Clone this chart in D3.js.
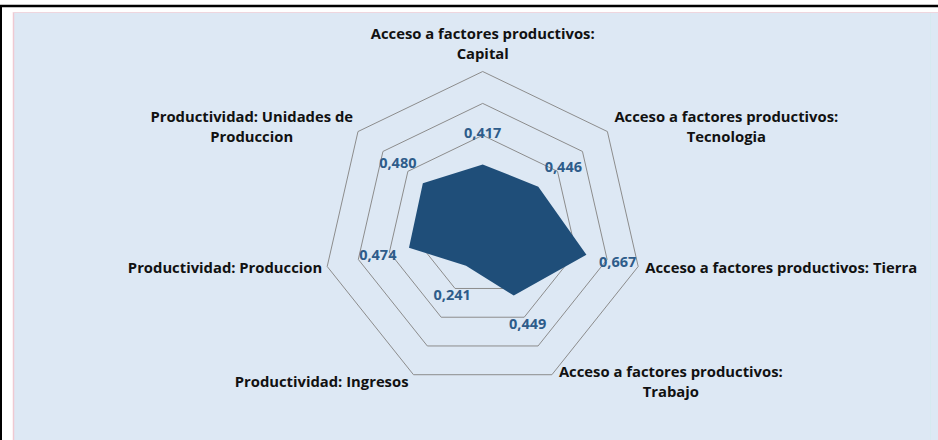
<!DOCTYPE html>
<html>
<head>
<meta charset="utf-8">
<script src="https://cdn.jsdelivr.net/npm/d3@7"></script>
<style>
  body { margin: 0; background: #fff; }
  text { font-family: "Open Sans", Lato, sans-serif; }
</style>
</head>
<body>
<div id="chart"></div>
<script>
'use strict';

// categories, clockwise from the top (each entry = lines of the label)
const categories = [
  ["Acceso a factores productivos:", "Capital"],
  ["Acceso a factores productivos:", "Tecnologia"],
  ["Acceso a factores productivos: Tierra"],
  ["Acceso a factores productivos:", "Trabajo"],
  ["Productividad: Ingresos"],
  ["Productividad: Produccion"],
  ["Productividad: Unidades de", "Produccion"]
];
const values = [0.417, 0.446, 0.667, 0.449, 0.241, 0.474, 0.480];
const ringTicks = [0.2, 0.4, 0.6, 0.8, 1.0];

(function() {
  const width = 938, height = 440;
  const cx = 482.7, cy = 231, R = 159.5;
  const n = categories.length;

  const svg = d3.select('#chart').append('svg')
    .attr('width', width)
    .attr('height', height);

  // background + frame
  svg.append('rect').attr('x', 14).attr('y', 13)
    .attr('width', width - 14).attr('height', height - 13)
    .attr('fill', '#dde8f4');
  svg.append('line').attr('x1', 13.5).attr('x2', 13.5).attr('y1', 12).attr('y2', height)
    .attr('stroke', '#efc9d2').attr('stroke-width', 1.5);
  svg.append('line').attr('x1', 13).attr('x2', width).attr('y1', 12.5).attr('y2', 12.5)
    .attr('stroke', '#efd6de').attr('stroke-width', 1);
  svg.append('line').attr('x1', 930.5).attr('x2', 930.5).attr('y1', 13).attr('y2', height)
    .attr('stroke', '#d6e9f0').attr('stroke-width', 1);
  svg.append('line').attr('x1', 0).attr('x2', width).attr('y1', 6).attr('y2', 6)
    .attr('stroke', '#000').attr('stroke-width', 2.5);
  svg.append('line').attr('x1', 1).attr('x2', 1).attr('y1', 5).attr('y2', height)
    .attr('stroke', '#000').attr('stroke-width', 2);

  const r = d3.scaleLinear().domain([0, 1]).range([0, R]);
  const angle = d3.scaleLinear().domain([0, n]).range([0, 2 * Math.PI]);

  const g = svg.append('g').attr('transform', `translate(${cx},${cy})`);

  const radial = d3.lineRadial()
    .angle((d, i) => angle(i))
    .radius(d => r(d))
    .curve(d3.curveLinearClosed);

  // grid rings
  g.selectAll('.ring')
    .data(ringTicks)
    .enter()
    .append('path')
      .attr('class', 'ring')
      .attr('d', t => radial(d3.range(n).map(() => t)))
      .attr('fill', 'none')
      .attr('stroke', '#8c8c8c')
      .attr('stroke-width', 1);

  // data area
  g.append('path')
    .datum(values)
    .attr('d', radial)
    .attr('fill', '#1f4e79');

  // point helper (0 = up, clockwise)
  function pt(i, rad) {
    const a = angle(i) - Math.PI / 2;
    return [rad * Math.cos(a), rad * Math.sin(a)];
  }

  // value labels
  const fmt = d3.formatLocale({decimal: ',', thousands: '.', grouping: [3], currency: ['', '']}).format('.3f');
  g.selectAll('.val')
    .data(values)
    .enter()
    .append('text')
      .attr('class', 'val')
      .attr('x', (d, i) => pt(i, r(d) + 32)[0])
      .attr('y', (d, i) => pt(i, r(d) + 32)[1])
      .attr('dy', '0.35em')
      .attr('text-anchor', 'middle')
      .style('font-size', '14.5px')
      .style('font-weight', 700)
      .style('fill', '#2e5c8a')
      .text(d => fmt(d));

  // category labels
  const lineH = 20;
  categories.forEach((lines, i) => {
    const [vx, vy] = pt(i, R);
    const a = angle(i) - Math.PI / 2;
    const c = Math.cos(a), s = Math.sin(a);
    const lab = g.append('g');
    const texts = lines.map((t, k) => lab.append('text')
      .style('font-size', '14.8px')
      .style('font-weight', 700)
      .style('fill', '#111')
      .attr('text-anchor', 'middle')
      .attr('y', k * lineH)
      .attr('dy', '0.35em')
      .text(t));
    const w = d3.max(texts, t => t.node().getComputedTextLength());
    const blockH = (lines.length - 1) * lineH;
    let x, y;
    if (Math.abs(c) < 0.1) {
      x = vx;
      y = vy - 18 - blockH;
    } else if (c > 0) {
      x = vx + 7 + w / 2;
      y = vy + s * 8 - blockH / 2;
    } else {
      x = vx - 5 - w / 2;
      y = vy + s * 8 - blockH / 2;
    }
    lab.attr('transform', `translate(${x},${y})`);
  });
})();
</script>
</body>
</html>
